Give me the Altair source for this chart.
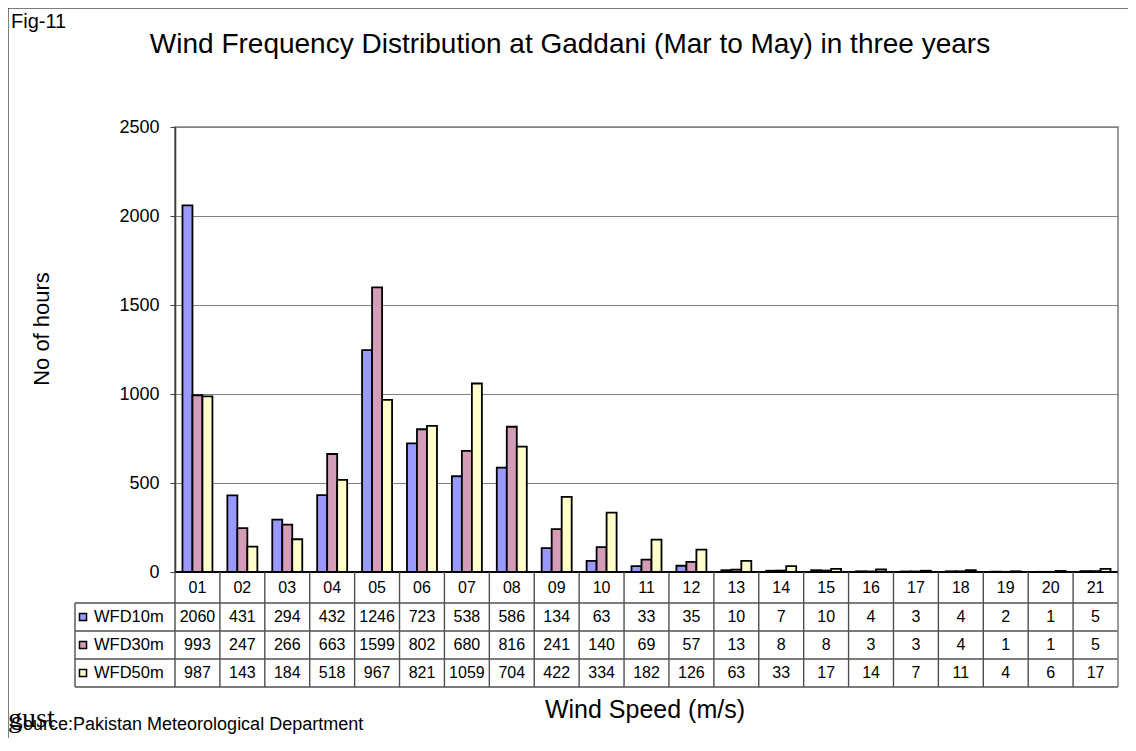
import altair as alt
import pandas as pd

cats = ['01','02','03','04','05','06','07','08','09','10','11','12','13','14','15','16','17','18','19','20','21']
series = ['WFD10m', 'WFD30m', 'WFD50m']
wfd10 = [2060,431,294,432,1246,723,538,586,134,63,33,35,10,7,10,4,3,4,2,1,5]
wfd30 = [993,247,266,663,1599,802,680,816,241,140,69,57,13,8,8,3,3,4,1,1,5]
wfd50 = [987,143,184,518,967,821,1059,704,422,334,182,126,63,33,17,14,7,11,4,6,17]
colors = ['#9999FF', '#D39CB7', '#FFFFCC']
yticks = [0, 500, 1000, 1500, 2000, 2500]

rows = []
for s, vals in zip(series, [wfd10, wfd30, wfd50]):
    for c, v in zip(cats, vals):
        rows.append({'cat': c, 'series': s, 'value': v})
df = pd.DataFrame(rows)
cat_df = pd.DataFrame({'cat': cats})
one = pd.DataFrame({'a': [0]})

FONT = 'Liberation Sans'
W, H = 943, 445
xscale = alt.Scale(domain=cats, paddingInner=0, paddingOuter=0)
X = alt.X('cat:N', scale=xscale, axis=None)

bars = alt.Chart(df).mark_bar(stroke='black', strokeWidth=1.8).encode(
    x=X,
    xOffset=alt.XOffset('series:N', scale=alt.Scale(domain=series, paddingInner=0, paddingOuter=0.745)),
    y=alt.Y('value:Q', scale=alt.Scale(domain=[0, 2500], nice=False),
            axis=alt.Axis(values=yticks, format='d', grid=True, gridColor='#808080', gridWidth=1.2,
                          domainColor='#404040', domainWidth=1.6, tickColor='#404040',
                          tickSize=5, labelFontSize=18, labelColor='black', labelFont=FONT,
                          labelPadding=11, title=None)),
    color=alt.Color('series:N', scale=alt.Scale(domain=series, range=colors), legend=None),
)

def rule(x1, x2, y1, y2, color='#505050', width=1.4):
    enc = dict(x=alt.value(x1), y=alt.value(y1))
    if x2 is not None:
        enc['x2'] = alt.value(x2)
    if y2 is not None:
        enc['y2'] = alt.value(y2)
    return alt.Chart(one).mark_rule(color=color, strokeWidth=width).encode(**enc)

layers = [bars]

# zero axis line
layers.append(rule(0, W, H, None, color='black', width=2))

# table lines
row_lines = [476, 504, 532, 560]
for yy in row_lines:
    layers.append(rule(-100, W, yy, None))
layers.append(rule(-100, None, 476, 560))
layers.append(rule(W, None, H, 560, color='#808080', width=1.6))
layers.append(alt.Chart(cat_df).mark_rule(color='#505050', strokeWidth=1.4).encode(
    x=alt.X('cat:N', scale=xscale, axis=None, bandPosition=0),
    y=alt.value(H), y2=alt.value(560)))

# category labels row
layers.append(alt.Chart(cat_df).mark_text(font=FONT, fontSize=16, color='black', baseline='middle').encode(
    x=X, y=alt.value(461), text='cat:N'))

row_y = [490, 518, 546]
for s, ry, col in zip(series, row_y, colors):
    layers.append(alt.Chart(df).transform_filter(alt.datum.series == s).mark_text(
        font=FONT, fontSize=16, color='black', baseline='middle').encode(
        x=X, y=alt.value(ry), text='value:Q'))
    leg = pd.DataFrame({'series': [s]})
    layers.append(alt.Chart(leg).mark_square(size=50, fill=col, stroke='black', strokeWidth=1.5, opacity=1).encode(
        x=alt.value(-92), y=alt.value(ry)))
    layers.append(alt.Chart(leg).mark_text(font=FONT, fontSize=16.5, color='black', align='left', baseline='middle').encode(
        x=alt.value(-81), y=alt.value(ry), text='series:N'))

# frame
layers.append(rule(-167, None, -119, 620, color='black', width=1))
layers.append(rule(-167, W + 10, -119, None, color='black', width=1))

def label(txt, x, y, size, align='center', angle=0, font=FONT, baseline='middle'):
    d = pd.DataFrame({'t': [txt]})
    kw = dict(font=font, fontSize=size, color='black', align=align, baseline=baseline)
    if angle:
        kw['angle'] = angle
    return alt.Chart(d).mark_text(**kw).encode(x=alt.value(x), y=alt.value(y), text='t:N')

layers.append(label('Fig-11', -164, -105, 20, align='left'))
layers.append(label('Wind Frequency Distribution at Gaddani (Mar to May) in three years', 395, -82, 28))
layers.append(label('No of hours', -133, 202, 22, angle=270))
layers.append(label('Wind Speed (m/s)', 470, 583, 25))
layers.append(label('gust', -167, 600, 28, align='left', font='Liberation Serif', baseline='alphabetic'))
layers.append(label('Source:Pakistan Meteorological Department', -164, 603, 18, align='left', baseline='alphabetic'))

chart = alt.layer(*layers).properties(
    width=W, height=H,
    autosize=alt.AutoSizeParams(type='none'),
    padding={'left': 167, 'top': 119, 'right': 10, 'bottom': 166},
).configure_view(stroke='#808080', strokeWidth=1.6)

chart.save('out.html', embed_options={'renderer': 'svg', 'actions': False})
